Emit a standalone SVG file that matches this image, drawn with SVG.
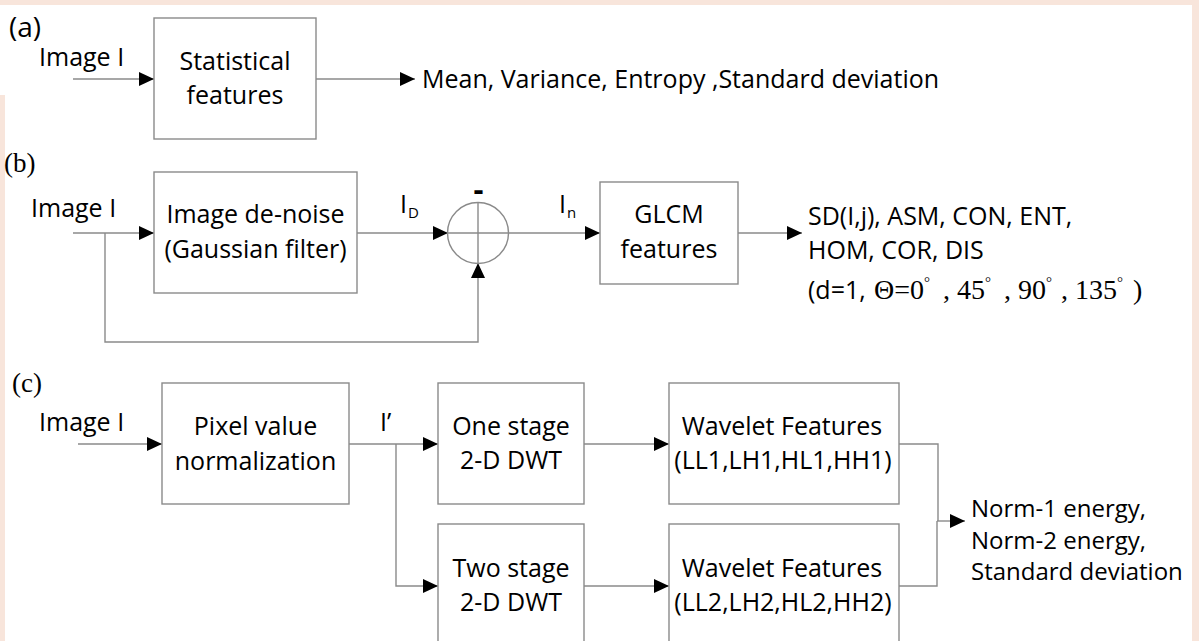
<svg xmlns="http://www.w3.org/2000/svg" width="1199" height="641" viewBox="0 0 1199 641">
<style>
.t{font-family:"Open Sans","Liberation Sans",sans-serif;font-size:25px;fill:#000}
.c{text-anchor:middle}
.s{font-family:"Liberation Serif","Times New Roman",serif;fill:#000}
.box{fill:#fff;stroke:#8a8a8a;stroke-width:1.4}
.ln{fill:none;stroke:#8a8a8a;stroke-width:1.4}
.ar{marker-end:url(#ah)}
</style>
<defs>
<marker id="ah" viewBox="0 0 15 14" refX="15" refY="7" markerWidth="15" markerHeight="14" markerUnits="userSpaceOnUse" orient="auto">
<path d="M0,0 L15,7 L0,14 Z" fill="#000"/>
</marker>
</defs>
<rect x="0" y="0" width="1199" height="641" fill="#f8e5db"/>
<rect x="5" y="5" width="1187" height="636" fill="#fff"/>
<rect x="0" y="5" width="6" height="90" fill="#fff"/>

<g id="connectors">
<line class="ln ar" x1="73" y1="79" x2="154" y2="79"/>
<line class="ln ar" x1="316" y1="79" x2="415" y2="79"/>
<line class="ln ar" x1="73" y1="233" x2="154" y2="233"/>
<path class="ln ar" d="M105,233 V342 H478 V263"/>
<line class="ln ar" x1="357" y1="233" x2="448" y2="233"/>
<line class="ln ar" x1="508" y1="233" x2="600" y2="233"/>
<line class="ln ar" x1="738" y1="233" x2="802" y2="233"/>
<line class="ln ar" x1="78" y1="444" x2="162" y2="444"/>
<line class="ln ar" x1="349" y1="444" x2="438" y2="444"/>
<path class="ln ar" d="M396,444 V586 H438"/>
<line class="ln ar" x1="584" y1="444" x2="669" y2="444"/>
<line class="ln ar" x1="584" y1="586" x2="669" y2="586"/>
<path class="ln" d="M899,444 H938 V521"/>
<path class="ln" d="M899,586 H937 V521"/>
<line class="ln ar" x1="937" y1="521" x2="965" y2="521"/>
</g>

<g id="labels">
<text class="t" x="9" y="37" style="font-size:28px">(a)</text>
<text class="s" x="4" y="172" font-size="27">(b)</text>
<text class="s" x="12" y="392" font-size="27">(c)</text>
<text class="t" x="39" y="66">Image I</text>
<text class="t" x="31" y="217">Image I</text>
<text class="t" x="39" y="431">Image I</text>
<text class="t" x="400" y="213">I<tspan x="408" y="218" font-size="15">D</tspan></text>
<text class="t" x="559" y="213">I<tspan x="567" y="218" font-size="15">n</tspan></text>
<text class="t" x="380" y="431">I’</text>
</g>

<g id="n-stat">
<rect class="box" x="154" y="18" width="162" height="121"/>
<text class="t c" x="235" y="70">Statistical</text>
<text class="t c" x="235" y="104">features</text>
</g>
<g id="n-stat-out">
<text class="t" x="422" y="88">Mean, Variance, Entropy ,Standard deviation</text>
</g>

<g id="n-denoise">
<rect class="box" x="154" y="172" width="203" height="121"/>
<text class="t c" x="255.5" y="223">Image de-noise</text>
<text class="t c" x="255.5" y="258">(Gaussian filter)</text>
</g>
<g id="n-sum">
<circle class="ln" cx="478" cy="233" r="30.5"/>
<line class="ln" x1="478" y1="202.5" x2="478" y2="263.5"/>
<line class="ln" x1="447.5" y1="233" x2="508.5" y2="233"/>
<text class="t c" x="478.5" y="200" style="font-size:31px;font-weight:bold">-</text>
</g>
<g id="n-glcm">
<rect class="box" x="600" y="182" width="138" height="102"/>
<text class="t c" x="669" y="223">GLCM</text>
<text class="t c" x="669" y="258">features</text>
</g>
<g id="n-glcm-out">
<text class="t" x="808" y="225">SD(I,j), ASM, CON, ENT,</text>
<text class="t" x="808" y="259">HOM, COR, DIS</text>
<text class="t" x="808" y="299">(d=1, <tspan class="s" font-size="28" x="874">Θ=0</tspan><tspan class="s" font-size="15" dy="-12">°</tspan><tspan class="s" font-size="28" x="943" dy="12">, 45</tspan><tspan class="s" font-size="15" dy="-12">°</tspan><tspan class="s" font-size="28" x="1004" dy="12">, 90</tspan><tspan class="s" font-size="15" dy="-12">°</tspan><tspan class="s" font-size="28" x="1061" dy="12">, 135</tspan><tspan class="s" font-size="15" dy="-12">°</tspan><tspan class="s" font-size="28" x="1133" dy="12">)</tspan></text>
</g>

<g id="n-norm">
<rect class="box" x="162" y="383" width="187" height="121"/>
<text class="t c" x="255.5" y="435">Pixel value</text>
<text class="t c" x="255.5" y="470">normalization</text>
</g>
<g id="n-dwt1">
<rect class="box" x="438" y="383" width="146" height="121"/>
<text class="t c" x="511" y="435">One stage</text>
<text class="t c" x="511" y="469">2-D DWT</text>
</g>
<g id="n-dwt2">
<rect class="box" x="438" y="524" width="146" height="140"/>
<text class="t c" x="511" y="577">Two stage</text>
<text class="t c" x="511" y="611">2-D DWT</text>
</g>
<g id="n-wf1">
<rect class="box" x="669" y="383" width="230" height="121"/>
<text class="t c" x="782" y="435">Wavelet Features</text>
<text class="t c" x="783" y="469">(LL1,LH1,HL1,HH1)</text>
</g>
<g id="n-wf2">
<rect class="box" x="669" y="524" width="230" height="140"/>
<text class="t c" x="782" y="577">Wavelet Features</text>
<text class="t c" x="783" y="611">(LL2,LH2,HL2,HH2)</text>
</g>
<g id="n-out" style="font-size:24px">
<text class="t" x="971" y="517" style="font-size:24px">Norm-1 energy,</text>
<text class="t" x="971" y="549" style="font-size:24px">Norm-2 energy,</text>
<text class="t" x="971" y="580" style="font-size:24px">Standard deviation</text>
</g>
</svg>
